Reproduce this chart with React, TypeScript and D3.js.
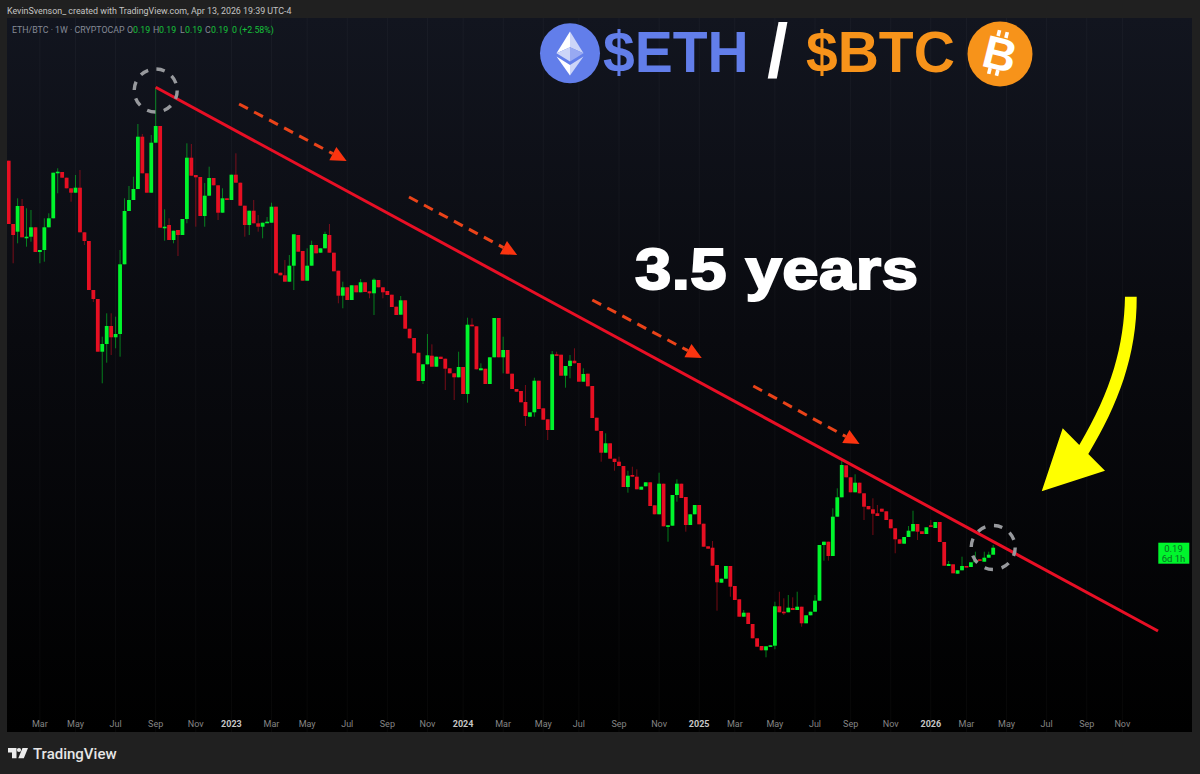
import React from "react";
import * as d3 from "d3";

// Weekly bars of ETH/BTC, ratio x 1000, bar 0 = week of 17 Jan 2022
const firstBarDate = "2022-01-17";
const opens = [
577.3,514,506.3,532,500.7,501.3,510.7,486,488,510.7,
519.7,564.7,566,560.3,549.7,545.3,550.3,505.7,497,448,
439,386.3,394,412,400.7,404,473.7,527,538,549,
601.3,564.7,545.3,595.3,612,510.3,513,498,508,503,
519,580.3,563,561,522,542.3,560,552.7,525.3,539.7,
538,563.3,555.3,532.3,513,527.3,514.7,511.3,515.3,515.3,
531.3,465.3,462.7,456.3,472.3,503,487,457.3,472.3,493,
485.3,489.7,503,485.3,467.3,442.3,450.7,438,452.7,445.7,
455.7,446.7,444.7,458,450.7,447,443.3,431.3,423.3,437.7,
409.3,400,385.3,357,373.7,382.3,371.3,381.3,379.3,369.7,
364.7,360.7,371,344,413.3,411.7,367.7,369.3,354,380.7,
420,380.7,388,364.3,349,347,336,321.3,325.7,357.3,
329.7,318.7,308,383.7,383.3,362.3,372,377.3,375,356.3,
364.3,352,320.3,307,285.3,294.7,279.3,276.3,272,251,
263,261.3,248.3,251.7,255.7,232.7,223.7,254.3,211.7,212.3,
243,254.3,241,213,223.7,233,214.3,191.7,190.3,173,
155.3,159.3,172,152,138.7,121.3,125.3,114,99.7,92,
87.7,91.7,92.3,131.7,126.3,125.7,130,128,131.3,114.7,
122.7,126.3,137.3,193,196.3,182,221.3,240.7,272.7,260.7,
245.7,255.3,244.7,232,228.7,224.7,229.3,226.7,218.7,209.7,
198.7,194.3,201,206.7,214,206.7,204,212.7,210,216,
196,172,173.7,164.3,167.7,172,171,175.7,178.7,176.3,180.3,183.3];
const closes = [
514,503,532,500.7,501.3,510.7,486,488,510.7,519.7,
565.3,566.3,560.3,549.7,545.3,550.3,505.7,497,448,439,
386.3,394,412,400.7,404,473.7,527,538,549,601.3,
564.7,545.3,595.3,612,510.3,511.3,498,507.3,503,519,
580.3,562.3,560.7,522,542.3,560,552.7,525.3,539.7,538,
563.3,555.3,532.3,513,527.3,514.7,511.3,515.3,516.3,531.3,
464.7,462.7,456.3,472.3,503.7,486.3,457.3,472.3,493,484.7,
489.7,504,485.3,466.7,442.3,450.7,438,452.7,445.7,455.7,
446,444.7,458.3,450.7,445.7,443,431,423,437.7,409.3,
399.7,384.7,357,373.7,382.7,371.3,381.3,379,369.3,364.7,
360.7,371,344,413.3,411.7,368.7,369.7,354,380.7,420,
380.7,388,364.3,349,346.3,335.7,322,325.7,357.3,329,
318.3,308,383.7,383,362.3,372,377.3,374.7,356.3,364,
351.7,320,307.3,285.3,294.7,279.3,276,272,251,262.3,
261.3,248.7,251.3,255.7,232,223.7,254.3,211.7,212.7,243,
254.3,240,213,223.7,233,213.7,191.3,189.3,172.3,155.7,
159.3,172,151.3,138,121.3,125.3,114,99.7,91.3,87.7,
91.7,92.7,131.7,125.7,125.7,130.3,128,131.3,114.7,122.7,
126.3,137.3,193,196.3,182,221.3,240.7,273,260.7,245.7,
255.3,244.7,231.3,228.7,224.3,222,226.3,218,209.7,198.7,
194.3,201,207.3,214,206.3,204,210.7,212,216,196,
172.3,174,164.7,167.7,172,171.3,175.7,178,177.3,180.3,183.3,190.3];
const highs = [
577.3,514,539.7,539,529.7,528,510.7,488,519.7,524.7,
565.3,569.7,566,560.3,549.7,563,568,505.7,497,448,
439,401.3,424.7,424.7,421.3,488,539.7,552,561.3,614,
604,564.7,603,650.7,612,528.7,519.7,507.3,508,519,
594.7,594,563,561,555,571.3,560,552.7,549.7,539.7,
563.3,584.7,555.3,532.3,527.3,538,523,515.3,521,535.3,
531.3,465.3,478,483,503.7,503,487,489.7,497.3,493,
489.7,506.3,514,485.3,467.3,456.3,450.7,452.7,452.7,459,
455.7,446.7,459.7,458,450.7,447,443.3,431.3,442,437.7,
409.3,400,385.3,373.7,404,393.7,381.3,381.3,379.3,369.7,
364.7,386.3,371,420.3,419.7,411.7,374.7,369.3,380.7,420,
420,401.3,388,364.3,349,347,353,325.7,360.3,357.3,
329.7,318.7,387,386.3,383.3,372,383,389.7,375,369.7,
364.3,352,320.3,307,304.7,294.7,279.3,281.3,272,267.3,
271.3,268.7,251.3,255.7,255.7,232.7,265.3,254.3,212.7,243,
258.7,254.3,241,223.7,233,233,214.3,191.7,197,173,
159.3,172,172,152,138.7,128,125.3,114,99.7,92,
91.7,92.7,136.3,146.3,139.7,143,140.7,146.3,131.3,122.7,
126.3,143,193,196.3,196.3,229.7,249.7,277.3,272.7,260.7,
263.7,255.3,244.7,232,239.7,233,229.3,226.7,218.7,209.7,
198.7,201,212,227.3,214,206.7,210.7,218,216,216,
196,177,173.7,167.7,181.3,172,175.7,186.3,178.7,186.3,186.3,193];
const lows = [
514,474.7,494.7,500.7,491.3,496.3,486,474.7,476.3,510.7,
519.7,544.7,560.3,549.7,536.3,545.3,505.7,493,448,436,
386.3,354.7,375.3,383,389.7,381.3,473.7,527,538,549,
564.7,545.3,545.3,595.3,510.3,497.3,498,494.7,482,503,
514.7,562.3,511.3,522,511.3,542.3,552.7,518,525.3,538,
538,555.3,532.3,501.3,503,514.7,506.3,499.7,515.3,515.3,
464.7,462.7,456.3,456.3,448,486.3,457.3,457.3,472.3,484.7,
485.3,489.7,485.3,466.7,434.7,429.7,438,438,445.7,445.7,
446,439.7,423,450.7,439.7,443,431,423,423.3,409.3,
399.7,384.7,357,354,373.7,371.3,371.3,379,348,364.7,
338,360.7,344,335.3,411.7,368.7,367.7,354,354,380.7,
380.7,364.7,364.3,349,346.3,335.7,312,321.3,321.3,329,
318.3,298,308,383,362.3,350.3,359.7,374.7,356.3,356.3,
351.7,320,307.3,276.3,285.3,279.3,267.3,272,251,245.3,
261.3,248.7,248.3,251.7,232,223.7,223.7,211.7,196.3,212.3,
236.3,240,206.3,213,223.7,213.7,191.3,189.3,172.3,127.3,
155.3,159.3,141.3,138,121.3,121.3,114,99.7,91.3,87.7,
80.7,91.7,88.7,125.7,123,125.7,128,128,111.3,114.7,
122.7,126.3,137.3,177.3,177.3,182,221.3,240.7,260.7,245.7,
245.7,244.7,218,228.7,203,222,226.3,218,209.7,184.7,
194.3,194.3,201,206.7,198,204,204,212,210,196,
172.3,172,164.7,164.3,167.7,171.3,171,175.7,177.3,176.3,180.3,183.3];

const tickMonths = [
"2022-03","2022-05","2022-07","2022-09","2022-11",
"2023-01","2023-03","2023-05","2023-07","2023-09","2023-11",
"2024-01","2024-03","2024-05","2024-07","2024-09","2024-11",
"2025-01","2025-03","2025-05","2025-07","2025-09","2025-11",
"2026-01","2026-03","2026-05","2026-07","2026-09","2026-11"];
const trendStart = { date: "2022-09-05", value: 650.7 };
const trendEnd = { date: "2026-12-28", value: 107 };
const arrowDates = [
  ["2023-01-14", 634, "2023-07-02", 577],
  ["2023-10-08", 541, "2024-03-26", 483],
  ["2024-07-22", 438, "2025-01-10", 380],
  ["2025-04-01", 352, "2025-09-15", 294],
] as [string, number, string, number][];
const topCircle = { date: "2022-09-05", value: 647.5 };
const nowCircle = { date: "2026-04-13", value: 190.5 };

const GREEN = "#00f52c";
const RED = "#e60f22";
const parse = (s: string) => new Date(s + "T00:00:00Z");
const x = d3.scaleUtc().domain([parse(firstBarDate), parse("2026-04-13")]).range([8.7, 993.2]);
const y = d3.scaleLinear().domain([0, 738]).range([738, 0]);
const barDate = (i: number) => d3.utcMonday.offset(parse(firstBarDate), i);
const font = "'Liberation Sans', Arial, sans-serif";
const uiFont = "Roboto, 'Liberation Sans', sans-serif";

function DashArrow({ d }: { d: [string, number, string, number] }) {
  const x0 = x(parse(d[0])), y0 = y(d[1]), x1 = x(parse(d[2])), y1 = y(d[3]);
  const a = Math.atan2(y1 - y0, x1 - x0);
  const ux = Math.cos(a), uy = Math.sin(a);
  const L = 15.6, W = 7.5;
  const bx = x1 - ux * L, by = y1 - uy * L;
  const head = `${x1},${y1} ${bx - uy * W},${by + ux * W} ${bx + uy * W},${by - ux * W}`;
  return (
    <g>
      <line x1={x0} y1={y0} x2={bx} y2={by} stroke="#ea4319" strokeWidth={3} strokeDasharray="10 7" />
      <polygon points={head} fill="#fb3410" />
    </g>
  );
}

export default function App() {
  const bars = opens.map((o, i) => ({ o, c: closes[i], h: highs[i], l: lows[i], d: barDate(i) }));
  const bodyW = 3.8;
  const gridX = tickMonths.map((m) => {
    const start = parse(m + "-01");
    return { m, px: x(d3.utcMonday.ceil(start)), jan: start.getUTCMonth() === 0, start };
  });
  const trendX0 = x(parse(trendStart.date)), trendY0 = y(trendStart.value);
  const trendX1 = x(parse(trendEnd.date)), trendY1 = y(trendEnd.value);
  const fmtMonth = d3.utcFormat("%b"), fmtYear = d3.utcFormat("%Y");
  const legendVals = [
    { l: "O", lx: 127, vx: 133 },
    { l: "H", lx: 153, vx: 159 },
    { l: "L", lx: 180, vx: 185 },
    { l: "C", lx: 205, vx: 211 },
  ];

  return (
    <svg width={1200} height={774} viewBox="0 0 1200 774"
      style={{ position: "absolute", left: 0, top: 0, display: "block" }}>
      <defs>
        <linearGradient id="bg" x1="0" y1="0" x2="0" y2="1">
          <stop offset="0" stopColor="#12151f" />
          <stop offset="0.45" stopColor="#090a0f" />
          <stop offset="1" stopColor="#000000" />
        </linearGradient>
        <clipPath id="plot"><rect x={7} y={18} width={1185} height={714} /></clipPath>
      </defs>
      <rect width={1200} height={774} fill="#202020" />
      <rect x={7} y={18} width={1185} height={714} fill="url(#bg)" />

      <g clipPath="url(#plot)">
        {gridX.map((g) => (
          <line key={g.m} x1={g.px} x2={g.px} y1={18} y2={732} stroke="#ffffff" strokeOpacity={0.035} />
        ))}
        {bars.map((b, i) => {
          const up = b.c >= b.o;
          const col = up ? GREEN : RED;
          const px = x(b.d);
          const top = y(Math.max(b.o, b.c));
          const h = Math.max(Math.abs(y(b.o) - y(b.c)), 1.6);
          return (
            <g key={i}>
              <line x1={px} x2={px} y1={y(b.h)} y2={y(b.l)} stroke={col} strokeOpacity={0.5} strokeWidth={1} />
              <rect x={px - bodyW / 2} y={top} width={bodyW} height={h} fill={col} />
            </g>
          );
        })}
      </g>

      {/* axis labels */}
      {gridX.map((g) => (
        <text key={g.m} x={g.px} y={727} textAnchor="middle" fontFamily={uiFont}
          fontSize={9} fontWeight={g.jan ? 700 : 400} fill={g.jan ? "#c6c6c6" : "#858585"}>
          {g.jan ? fmtYear(g.start) : fmtMonth(g.start)}
        </text>
      ))}

      {/* trend line and annotations */}
      <line x1={trendX0} y1={trendY0} x2={trendX1} y2={trendY1} stroke="#e80f25" strokeWidth={3} />
      {arrowDates.map((d, i) => <DashArrow key={i} d={d} />)}
      <circle cx={x(parse(topCircle.date))} cy={y(topCircle.value)} r={21.5} fill="none"
        stroke="#97999d" strokeWidth={3.4} strokeDasharray="8.5 8.4" />
      <circle cx={x(parse(nowCircle.date))} cy={y(nowCircle.value)} r={22} fill="none"
        stroke="#97999d" strokeWidth={3.4} strokeDasharray="8.5 8.8" />

      {/* header */}
      <text x={7} y={14} fontFamily={uiFont} fontSize={8.9} fill="#c4c4c4">
        KevinSvenson_ created with TradingView.com, Apr 13, 2026 19:39 UTC-4
      </text>
      <text x={12} y={33} fontFamily={uiFont} fontSize={8.8} fill="#858a96">ETH/BTC · 1W · CRYPTOCAP</text>
      {legendVals.map((v) => (
        <g key={v.l} fontFamily={uiFont} fontSize={8.8}>
          <text x={v.lx} y={33} fill="#858a96">{v.l}</text>
          <text x={v.vx} y={33} fill="#16c23a">0.19</text>
        </g>
      ))}
      <text x={232} y={33} fontFamily={uiFont} fontSize={8.8} fill="#16c23a">0 (+2.58%)</text>

      {/* title */}
      <circle cx={570} cy={53.3} r={30} fill="#627eea" />
      <g transform="translate(570,53.3)">
        <polygon points="0,-21.7 -13.5,0 0,-6" fill="#ffffff" />
        <polygon points="0,-21.7 13.5,0 0,-6" fill="#ccd5f8" />
        <polygon points="-13.5,0 0,-6 0,8.3" fill="#ccd5f8" />
        <polygon points="13.5,0 0,-6 0,8.3" fill="#98a9f2" />
        <polygon points="-13.5,3.3 0,11.7 0,22.3" fill="#ffffff" />
        <polygon points="13.5,3.3 0,11.7 0,22.3" fill="#ccd5f8" />
      </g>
      <text x={603} y={72} fontFamily={font} fontWeight={700} fontSize={57} fill="#627eea">$ETH</text>
      <text x={767} y={77} fontFamily={font} fontWeight={700} fontSize={76} fill="#ffffff">/</text>
      <text x={806} y={72} fontFamily={font} fontWeight={700} fontSize={57} fill="#f7931a">$BTC</text>
      <circle cx={1000} cy={54} r={32.5} fill="#f7931a" />
      <g transform="rotate(14 1000 54)" fill="#ffffff">
        <text x={1000} y={70} textAnchor="middle" fontFamily={font} fontWeight={700} fontSize={46}>B</text>
        <rect x={992} y={31} width={3.6} height={6} />
        <rect x={1000} y={31} width={3.6} height={6} />
        <rect x={992} y={70} width={3.6} height={6} />
        <rect x={1000} y={70} width={3.6} height={6} />
      </g>

      {/* big label */}
      <text transform="translate(635,288.5) scale(1.125,1)" fontFamily={font} fontWeight={700} fontSize={58}
        letterSpacing={0.4} fill="#ffffff" stroke="#ffffff" strokeWidth={2}>3.5 years</text>

      {/* yellow arrow */}
      <path d="M1125,296.7 C1124,345 1112,390 1079.3,445 L1062.7,428.3 L1041.7,491.3 L1105,470.7 L1088.3,454 C1118,405 1137,355 1136.7,296.7 Z"
        fill="#ffff00" />

      {/* last price */}
      <rect x={1158.3} y={542.7} width={31} height={21} fill="#00f52c" />
      <text x={1173.5} y={552} textAnchor="middle" fontFamily={uiFont} fontSize={9.5} fill="#0a6b24">0.19</text>
      <text x={1173.5} y={561.5} textAnchor="middle" fontFamily={uiFont} fontSize={9.5} fill="#0a6b24">6d 1h</text>

      {/* logo */}
      <g fill="#ececec">
        <path d="M8,748 H16.5 V758.3 H12 V752.4 H8 Z" />
        <circle cx={19} cy={750} r={2.1} />
        <path d="M22.5,748 H28 L23.8,758.3 H18.3 Z" />
      </g>
      <text x={33} y={758.5} fontFamily={uiFont} fontSize={15} fontWeight={500} fill="#e6e6e6">TradingView</text>
    </svg>
  );
}
